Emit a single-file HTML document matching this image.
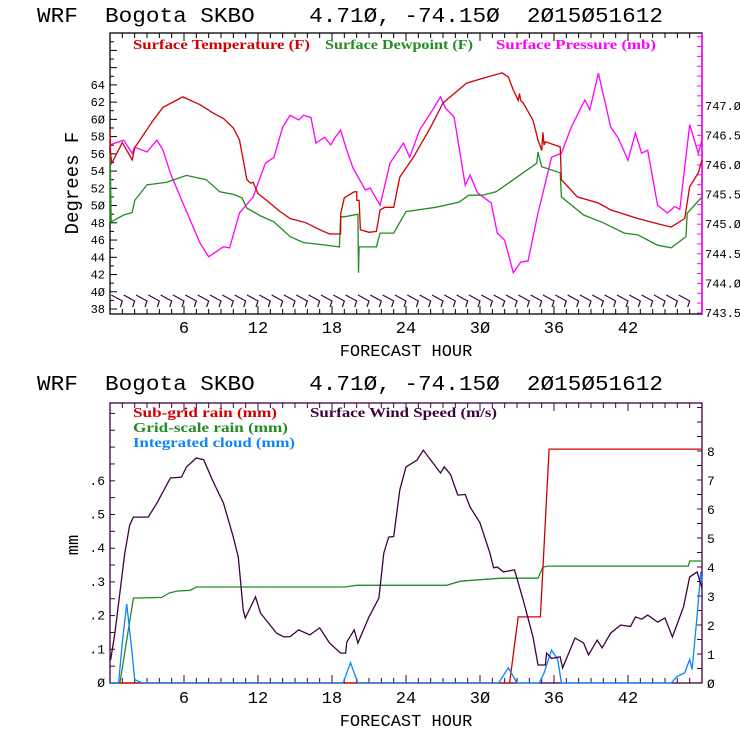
<!DOCTYPE html>
<html><head><meta charset="utf-8"><style>
html,body{margin:0;padding:0;background:#fff;}
svg{display:block;}
text{font-family:"Liberation Mono","DejaVu Sans Mono",monospace;white-space:pre;}
.lg{font-family:"Liberation Serif",serif;font-weight:bold;font-size:14px;}
</style></head><body>
<svg id="c" width="740" height="740" viewBox="0 0 740 740">
<rect width="740" height="740" fill="#fff"/>
<text x="37" y="22" font-size="21" xml:space="preserve" textLength="626" lengthAdjust="spacingAndGlyphs">WRF  Bogota SKBO    4.71Ø, -74.15Ø  2Ø15Ø51612</text>
<text x="37" y="390" font-size="21" xml:space="preserve" textLength="626" lengthAdjust="spacingAndGlyphs">WRF  Bogota SKBO    4.71Ø, -74.15Ø  2Ø15Ø51612</text>
<g id="topg"></g><g id="botg"></g>
</svg>
<script>
// ---- top chart data ----
const tempH=[0,0.05,0.15,1.0,1.8,2.0,3.5,4.3,5.9,7.3,8.4,9.2,10.0,10.5,10.8,11.1,11.4,11.6,12,12.7,13.8,14.6,15.9,17,17.8,18.7,18.71,19.0,19.8,20.0,20.01,20.2,20.3,21,21.6,21.9,22.3,23,23.5,24.6,26,27,28.9,30.3,31.8,32.3,32.7,33.1,33.2,33.3,33.5,34.3,34.7,35.0,35.1,35.2,35.3,36.5,36.6,37.9,39.6,40.6,42.8,44.4,45.5,46.6,47,47.7,48];
const tempF=[58.8,56,54.9,57.3,55.3,56.7,59.9,61.4,62.6,61.7,60.7,60.1,59,57.6,55.3,53,52.6,52.7,51.4,50.6,49.3,48.5,48,47.2,46.7,46.7,49.1,50.9,51.6,51.6,50.6,50.6,47.2,46.9,47,49.5,49.8,49.8,53.3,55.6,59.1,61.9,64.2,64.8,65.4,64.9,63.4,62.2,63,62.2,61.9,59.9,57.6,56.4,58.5,57,57.4,56.8,53,51,50.3,49.5,48.5,47.9,47.5,48.5,52.2,53.8,55.3];
const dewH=[0,0.02,0.1,1.1,1.8,2.0,3,4.6,6.2,7.8,8.9,10,10.7,11.1,12.2,13.3,14.6,15.7,17,18.6,18.7,19,20.1,20.15,20.2,20.3,21,21.6,21.9,23,24,26.4,28.3,29.1,30.2,31.3,32.7,34.6,34.7,35,36.5,36.6,38.4,40,41.7,42.8,44.4,45.5,46.7,46.8,48];
const dewF=[48,56.1,48.1,48.9,49.2,50.6,52.4,52.7,53.5,53,51.6,51.3,50.9,49.7,48.8,48.1,46.4,45.7,45.5,45.2,48.7,48.7,49,42.2,45.2,45.2,45.2,45.2,46.8,46.8,49.3,49.8,50.4,51.2,51.2,51.6,53,54.9,56.2,54.5,53.8,51,48.9,48,46.8,46.6,45.4,45.1,46.4,49.1,51];
const presH=[0,1.1,1.8,2,3,3.8,4.3,4.9,5.7,6.5,7.3,8,9.2,9.7,10.5,11.6,12.6,13.3,14,14.6,15.3,15.7,16.3,16.7,17.4,17.9,18.2,18.7,19.2,19.7,20.7,21.1,21.9,22.7,23.8,24.3,25.1,26,26.8,27.2,27.9,28.8,29.2,29.8,30.9,31.4,32,32.7,33.3,33.9,34.7,35.3,35.8,36.6,37.4,38.5,38.9,39.6,40.6,41.2,42,42.6,43.1,43.6,44.4,45.2,45.8,46.2,47,47.7,48];
const presMb=[746.34,746.42,746.2,746.3,746.22,746.42,746.25,745.86,745.46,745.07,744.68,744.45,744.62,744.6,745.19,745.46,746.03,746.13,746.64,746.84,746.76,746.84,746.8,746.37,746.47,746.34,746.45,746.59,746.25,745.95,745.58,745.61,745.32,746.03,746.37,746.13,746.59,746.88,747.15,746.96,746.81,745.66,745.83,745.53,745.36,744.85,744.73,744.18,744.36,744.38,745.19,745.7,746.13,746.2,746.64,747.1,746.93,747.55,746.64,746.46,746.08,746.54,746.2,746.25,745.32,745.19,745.3,745.25,746.68,746.2,746.42];
const tempTicks=[38,40,42,44,46,48,50,52,54,56,58,60,62,64];
const presTicks=[743.5,744.0,744.5,745.0,745.5,746.0,746.5,747.0];
const hourTicks=[6,12,18,24,30,36,42];
// ---- bottom chart data ----
const windH=[0.05,0.4,1.2,1.6,1.9,2.1,3.1,3.8,4.9,5.8,6.2,7,7.6,8.3,9.2,10,10.4,10.8,10.97,11.8,12.2,13.5,14.1,14.6,15.3,16.2,17,17.8,18.7,19.1,19.2,19.8,20.1,21,21.8,22.2,22.6,23,23.5,24,24.9,25.4,26,26.8,27.1,27.6,28.2,28.8,29.2,30,30.8,31.1,31.4,31.9,32.8,33.5,34.3,34.7,35.3,35.4,35.8,36.5,36.7,37.7,38.4,38.8,39.5,39.9,40.6,41.4,42.2,42.6,43.1,43.6,44.4,45,45.6,46.5,47,47.6,48];
const windMs=[0.79,1.72,4.48,5.45,5.72,5.72,5.72,6.2,7.07,7.1,7.45,7.76,7.7,7.0,6.2,5.03,4.34,2.52,2.24,2.97,2.41,1.72,1.59,1.6,1.83,1.66,1.9,1.38,1.03,1.03,1.41,1.83,1.38,2.28,2.93,4.48,5.03,5.05,6.66,7.45,7.69,8.03,7.69,7.24,7.45,7.2,6.48,6.5,6.07,5.52,4.48,3.97,4.0,3.83,3.9,2.86,1.59,0.62,0.62,1.03,0.85,0.9,0.52,1.55,1.38,0.97,1.48,1.21,1.72,2.0,1.95,2.28,2.2,2.34,2.1,2.24,1.59,2.62,3.66,3.83,3.28];
const subH=[0,32.4,33.1,34.9,35.6,48];
const subMm=[0,0,0.196,0.196,0.694,0.694];
const gridH=[0,0.8,1.9,4.2,4.8,5.5,6.5,7,19,20,27.3,28.4,31.7,34.7,35.1,35.5,46.9,47,48];
const gridMm=[0,0,0.252,0.254,0.267,0.273,0.275,0.285,0.285,0.29,0.29,0.302,0.311,0.311,0.344,0.347,0.347,0.362,0.362];
const cloudH=[0,0.7,1.0,1.35,1.7,2.0,2.6,18.9,19.5,20.1,31.5,32.3,33,34.8,35.2,35.8,36.3,36.6,45.5,46,46.6,47,47.2,47.6,47.9,48];
const cloudMm=[0,0,0.12,0.234,0.12,0.01,0,0,0.06,0,0,0.045,0,0,0.03,0.098,0.07,0,0,0.02,0.03,0.07,0.04,0.2,0.33,0.3];
const mmTicks=[0,0.1,0.2,0.3,0.4,0.5,0.6];
const mmLabels=["Ø",".1",".2",".3",".4",".5",".6"];
const windTicks=[0,1,2,3,4,5,6,7,8];

const NS="http://www.w3.org/2000/svg";
const X0=110,X1=702;
const xs=h=>X0+h*(X1-X0)/48;
const yT=f=>309-(f-38)*8.62;
const yP=p=>313-(p-743.5)*59.2;
const yMm=m=>683-m*337;
const yW=w=>683-w*29;
function mk(par,tag,at){const e=document.createElementNS(NS,tag);for(const k in at)e.setAttribute(k,at[k]);par.appendChild(e);return e;}
function series(par,H,V,yf,col,name){
  const d=H.map((h,i)=>(i?'L':'M')+xs(h).toFixed(1)+' '+yf(V[i]).toFixed(1)).join(' ');
  const p=mk(par,'path',{d:d,fill:'none',stroke:col,'stroke-width':1.3});
  
  
}
function txt(par,x,y,s,sz,anchor,col,name){const t=mk(par,'text',{x:x,y:y,'font-size':sz,'text-anchor':anchor||'start',fill:col||'#000'});t.textContent=s;
  
  
  return t;}
function leg(par,x,y,s,w,col,name){const t=txt(par,x,y,s,14,'start',col,name);t.setAttribute('class','lg');t.setAttribute('textLength',w);t.setAttribute('lengthAdjust','spacingAndGlyphs');return t;}

// ---- top ----
const gTop=document.getElementById('topg');
const tf=mk(gTop,'rect',{x:X0,y:33,width:X1-X0,height:281,fill:'none',stroke:'#000','stroke-width':1.3});


mk(gTop,'line',{x1:X1,y1:33,x2:X1,y2:314,stroke:'#ff00ff','stroke-width':1.5});
for(let h=1;h<48;h++){const x=xs(h),L=(h%6==0)?8:5;mk(gTop,'line',{x1:x,y1:314,x2:x,y2:314-L,stroke:'#000'});mk(gTop,'line',{x1:x,y1:33,x2:x,y2:33+L,stroke:'#000'});}
for(let f=38;f<=70;f++){const y=yT(f);if(y<34)break;mk(gTop,'line',{x1:X0,y1:y,x2:X0+(f%2?4:7),y2:y,stroke:'#000'});}
for(let y=313;y>34;y-=9.87){mk(gTop,'line',{x1:X1,y1:y,x2:X1-5,y2:y,stroke:'#ff00ff'});}
tempTicks.forEach(f=>txt(gTop,105,yT(f)+4,String(f).replace(/0/g,'Ø'),12,'end','#000','temp-tick-label'));
presTicks.forEach(p=>txt(gTop,705,yP(p)+4,p.toFixed(1).replace(/0/g,'Ø'),12,'start','#000','pressure-tick-label'));
hourTicks.forEach(h=>txt(gTop,xs(h),333,String(h).replace(/0/g,'Ø'),17,'middle','#000','hour-tick-label'));
txt(gTop,406,356,'FORECAST HOUR',17,'middle','#000','top-x-axis-title');
const yl=txt(gTop,0,0,'Degrees F',19,'middle','#000','top-y-axis-title');yl.setAttribute('transform','translate(78,183) rotate(-90)');
series(gTop,presH,presMb,yP,'#ff00ff','pressure-line');
series(gTop,dewH,dewF,yT,'#228b22','dewpoint-line');
series(gTop,tempH,tempF,yT,'#d00000','temperature-line');
for(let h=1;h<48;h++){const x=xs(h);
  const b=mk(gTop,'path',{d:`M${x-11} 295 L${x} 301 L${x-2} 307`,fill:'none',stroke:'#400040','stroke-width':1.2});
  
  
}
leg(gTop,133,49,'Surface Temperature (F)',177,'#d00000','legend-temperature');
leg(gTop,325,49,'Surface Dewpoint (F)',148,'#228b22','legend-dewpoint');
leg(gTop,496,49,'Surface Pressure (mb)',160,'#ff00ff','legend-pressure');

// ---- bottom ----
const gBot=document.getElementById('botg');
const bf=mk(gBot,'rect',{x:X0,y:403,width:X1-X0,height:280,fill:'none',stroke:'#400040','stroke-width':1.3});


for(let h=1;h<48;h++){const x=xs(h),L=(h%6==0)?8:5;mk(gBot,'line',{x1:x,y1:683,x2:x,y2:683-L,stroke:'#400040'});mk(gBot,'line',{x1:x,y1:403,x2:x,y2:403+L,stroke:'#400040'});}
for(let m=0.05;m<0.84;m+=0.05){const y=yMm(m);mk(gBot,'line',{x1:X0,y1:y,x2:X0+5,y2:y,stroke:'#400040'});}
for(let w=0.5;w<9.6;w+=0.5){const y=yW(w);mk(gBot,'line',{x1:X1,y1:y,x2:X1-5,y2:y,stroke:'#400040'});}
mmTicks.forEach((m,i)=>txt(gBot,105,yMm(m)+4,mmLabels[i],13,'end','#000','mm-tick-label'));
windTicks.forEach(w=>txt(gBot,707,yW(w)+5,String(w).replace(/0/g,'Ø'),13,'start','#000','wind-tick-label'));
hourTicks.forEach(h=>txt(gBot,xs(h),703,String(h).replace(/0/g,'Ø'),17,'middle','#000','hour-tick-label'));
txt(gBot,406,726,'FORECAST HOUR',17,'middle','#000','bottom-x-axis-title');
const yl2=txt(gBot,0,0,'mm',17,'middle','#000','bottom-y-axis-title');yl2.setAttribute('transform','translate(78,545) rotate(-90)');
series(gBot,gridH,gridMm,yMm,'#228b22','grid-scale-rain-line');
series(gBot,subH,subMm,yMm,'#d00000','sub-grid-rain-line');
series(gBot,cloudH,cloudMm,yMm,'#0a84ff','integrated-cloud-line');
series(gBot,windH,windMs,yW,'#400040','wind-speed-line');
leg(gBot,133,417,'Sub-grid rain (mm)',144,'#d00000','legend-sub-grid-rain');
leg(gBot,310,417,'Surface Wind Speed (m/s)',187,'#400040','legend-wind-speed');
leg(gBot,133,432,'Grid-scale rain (mm)',155,'#228b22','legend-grid-scale-rain');
leg(gBot,133,447,'Integrated cloud (mm)',162,'#0a84ff','legend-integrated-cloud');
</script>
</body></html>
